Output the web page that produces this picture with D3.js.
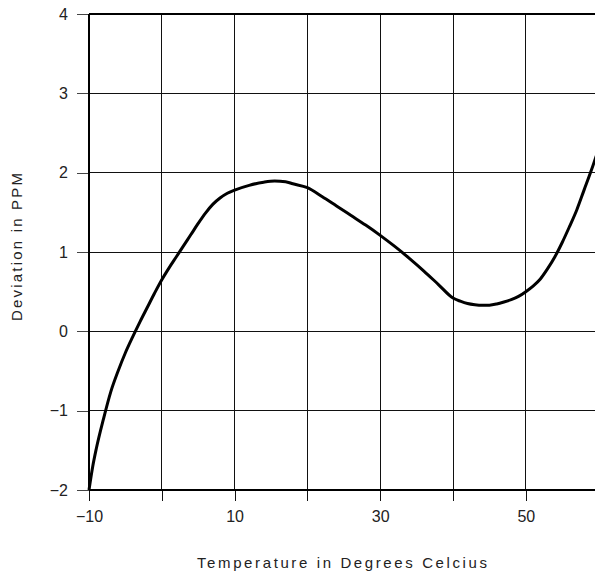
<!DOCTYPE html>
<html lang="en">
<head>
    <meta charset="UTF-8">
    <title>Deviation vs Temperature</title>
    <script src="https://d3js.org/d3.v7.min.js"></script>
    <style>
        html, body {
            margin: 0;
            padding: 0;
            overflow: hidden;
            background: #fff;
        }
        svg text {
            font-family: "Liberation Sans", Arial, sans-serif;
            fill: #222;
        }
        .grid line {
            stroke: #111;
            stroke-width: 1;
            shape-rendering: crispEdges;
        }
    </style>
</head>
<body>
    <script>
        // Temperature (deg C) and deviation (PPM)
        const temps = [-10, -9.5, -9, -8, -7, -6, -5, -4, -3, -2, -1, 0, 1, 2, 3, 4, 5, 6,
                       7, 8, 9, 10, 12, 14, 15.5, 17, 18, 20, 22, 24, 26, 28, 30, 32, 34, 36, 38, 40,
                       41, 42, 43, 44, 45, 46, 47, 48, 49, 50, 51, 52, 53, 54, 55, 56, 57, 58, 59, 60];
        const deviation = [-2.0, -1.71, -1.48, -1.10, -0.76, -0.50, -0.27, -0.07, 0.12, 0.30, 0.48, 0.65, 0.80, 0.94, 1.08, 1.22, 1.36, 1.49,
                           1.60, 1.68, 1.74, 1.78, 1.84, 1.88, 1.895, 1.885, 1.86, 1.81, 1.70, 1.58, 1.46, 1.34, 1.21, 1.07, 0.92, 0.76, 0.59, 0.42,
                           0.38, 0.35, 0.335, 0.328, 0.33, 0.345, 0.37, 0.40, 0.44, 0.50, 0.57, 0.66, 0.79, 0.94, 1.12, 1.32, 1.53, 1.78, 2.03, 2.30];

        const xTicks = [-10, 0, 10, 20, 30, 40, 50, 60];
        const xLabels = [-10, 10, 30, 50];
        const yTicks = [-2, -1, 0, 1, 2, 3, 4];

        const width = 595, height = 573;

        const svg = d3.select("body").append("svg")
            .attr("width", width)
            .attr("height", height);

        const x = d3.scaleLinear().domain([-10, 60]).range([89, 598.6]);
        const y = d3.scaleLinear().domain([-2, 4]).range([490, 14]);
        const fmt = d3.format("d");

        // Grid lines
        const grid = svg.append("g").attr("class", "grid");
        grid.selectAll("line.v")
            .data(xTicks.filter(d => d > -10))
            .enter().append("line")
            .attr("class", "v")
            .attr("x1", d => x(d)).attr("x2", d => x(d))
            .attr("y1", y(4)).attr("y2", y(-2));
        grid.selectAll("line.h")
            .data(yTicks.filter(d => d > -2 && d < 4))
            .enter().append("line")
            .attr("class", "h")
            .attr("x1", x(-10)).attr("x2", width)
            .attr("y1", d => y(d)).attr("y2", d => y(d));

        // Bottom axis
        const xAxis = d3.axisBottom(x)
            .tickValues(xTicks)
            .tickSize(11)
            .tickPadding(10)
            .tickFormat(d => xLabels.includes(d) ? fmt(d) : "");
        const gx = svg.append("g")
            .attr("transform", `translate(0,${y(-2)})`)
            .call(xAxis);
        gx.select(".domain").remove();
        gx.selectAll(".tick line").attr("stroke", "#111").attr("shape-rendering", "crispEdges");
        gx.selectAll(".tick text").attr("font-size", 16).attr("font-family", null);

        // Left axis
        const yAxis = d3.axisLeft(y)
            .tickValues(yTicks)
            .tickSize(12)
            .tickPadding(9)
            .tickFormat(fmt);
        const gy = svg.append("g")
            .attr("transform", `translate(${x(-10)},0)`)
            .call(yAxis);
        gy.select(".domain").remove();
        gy.selectAll(".tick line").attr("stroke", "#444").attr("shape-rendering", "crispEdges");
        gy.selectAll(".tick text").attr("font-size", 16).attr("font-family", null);

        // Frame lines (left, top, bottom)
        svg.append("line")
            .attr("x1", x(-10)).attr("x2", x(-10))
            .attr("y1", y(4)).attr("y2", y(-2))
            .attr("stroke", "#000").attr("stroke-width", 2);
        svg.append("line")
            .attr("x1", x(-10)).attr("x2", width)
            .attr("y1", y(4)).attr("y2", y(4))
            .attr("stroke", "#000").attr("stroke-width", 2);
        svg.append("line")
            .attr("x1", x(-10)).attr("x2", width)
            .attr("y1", y(-2)).attr("y2", y(-2))
            .attr("stroke", "#000").attr("stroke-width", 2);

        // Curve
        const points = temps.map((t, i) => [t, deviation[i]]);
        svg.append("path")
            .datum(points)
            .attr("fill", "none")
            .attr("stroke", "#000")
            .attr("stroke-width", 3)
            .attr("stroke-linejoin", "round")
            .attr("d", d3.line()
                .x(d => x(d[0]))
                .y(d => y(d[1]))
                .curve(d3.curveMonotoneX));

        // Axis titles
        svg.append("text")
            .attr("x", 342)
            .attr("y", 568)
            .attr("text-anchor", "middle")
            .attr("font-size", 15)
            .attr("textLength", 290)
            .attr("lengthAdjust", "spacing")
            .text("Temperature in Degrees Celcius");

        svg.append("text")
            .attr("transform", "translate(22,247) rotate(-90)")
            .attr("text-anchor", "middle")
            .attr("font-size", 15)
            .attr("textLength", 148)
            .attr("lengthAdjust", "spacing")
            .text("Deviation in PPM");
    </script>
</body>
</html>
